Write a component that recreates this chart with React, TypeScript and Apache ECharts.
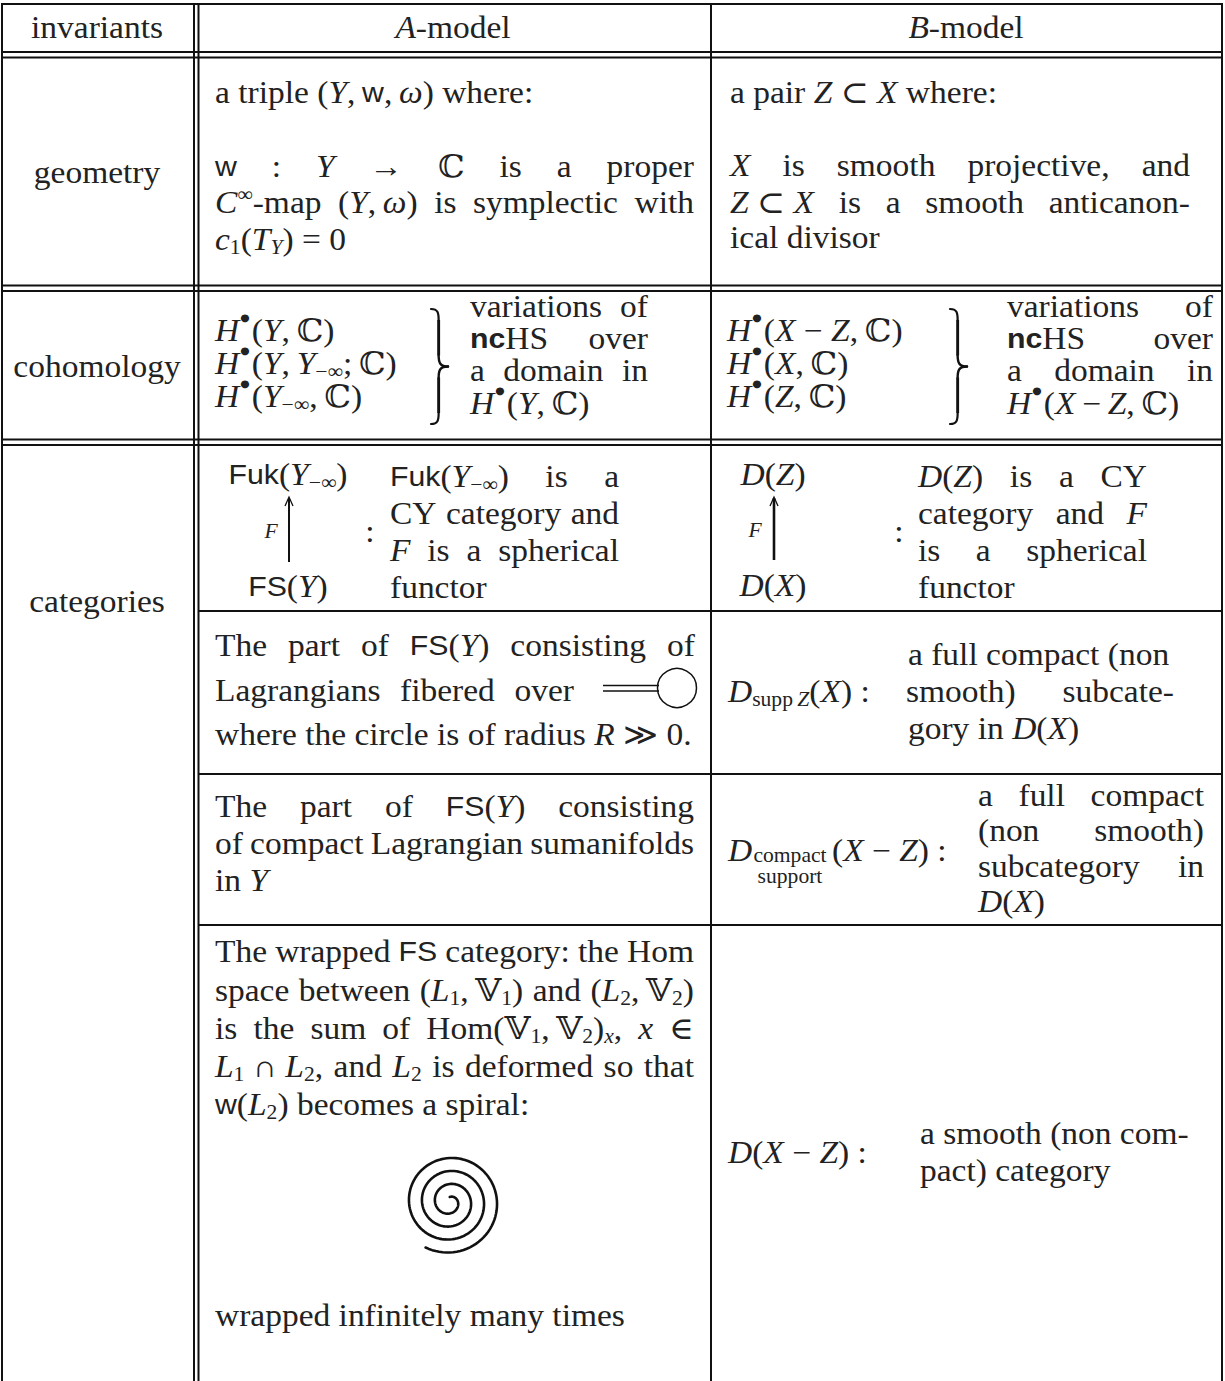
import React, { useEffect, useRef } from "react";
import * as echarts from "echarts";

const W = 1225;
const H = 1381;

// ---------------- table text ----------------
const headerTexts = ["invariants", "{i|A}-model", "{i|B}-model"];
const rowLabels = ["geometry", "cohomology", "categories"];

const geometryA = [
  "a triple ({i|Y},\u2009{s|w},\u2009{i|ω}) where:",
  "{s|w} : {i|Y} → ℂ is a proper",
  "{i|C}{sup|∞}-map ({i|Y},\u2009{i|ω}) is symplectic with",
  "{i|c}{sub|1}({i|T}{isub|Y})\u2005=\u20050",
];
const geometryB = [
  "a pair {i|Z}\u2005⊂\u2005{i|X} where:",
  "{i|X} is smooth projective, and",
  "{i|Z}\u2005⊂\u2005{i|X} is a smooth anticanon-",
  "ical divisor",
];
const cohomALeft = [
  "{i|H}{dot|●}({i|Y},\u2009ℂ)",
  "{i|H}{dot|●}({i|Y},\u2009{i|Y}{sub|−∞};\u2009ℂ)",
  "{i|H}{dot|●}({i|Y}{sub|−∞},\u2009ℂ)",
];
const cohomARight = ["variations of", "{b|nc}HS over", "a domain in", "{i|H}{dot|●}({i|Y},\u2009ℂ)"];
const cohomBLeft = [
  "{i|H}{dot|●}({i|X}\u2005−\u2005{i|Z},\u2009ℂ)",
  "{i|H}{dot|●}({i|X},\u2009ℂ)",
  "{i|H}{dot|●}({i|Z},\u2009ℂ)",
];
const cohomBRight = ["variations of", "{b|nc}HS over", "a domain in", "{i|H}{dot|●}({i|X}\u2009−\u2009{i|Z},\u2009ℂ)"];

const catA1Diagram = ["{s|Fuk}({i|Y}{sub|−∞})", "F", "{s|FS}({i|Y})"];
const catA1Text = ["{s|Fuk}({i|Y}{sub|−∞}) is a", "CY category and", "{i|F} is a spherical", "functor"];
const catB1Diagram = ["{i|D}({i|Z})", "F", "{i|D}({i|X})"];
const catB1Text = ["{i|D}({i|Z}) is a CY", "category and {i|F}", "is a spherical", "functor"];

const catA2Text = [
  "The part of {s|FS}({i|Y}) consisting of",
  "Lagrangians fibered over",
  "where the circle is of radius {i|R}\u2005≫\u20050.",
];
const catB2Lhs = "{i|D}{sub|supp\u2009}{isub|Z}({i|X}) :";
const catB2Text = ["a full compact (non", "smooth) subcate-", "gory in {i|D}({i|X})"];

const catA3Text = ["The part of {s|FS}({i|Y}) consisting", "of compact Lagrangian sumanifolds", "in {i|Y}"];
const catB3Lhs = ["{i|D}", "compact", "support", "({i|X}\u2005−\u2005{i|Z}) :"];
const catB3Text = ["a full compact", "(non smooth)", "subcategory in", "{i|D}({i|X})"];

const catA4Text = [
  "The wrapped {s|FS} category: the Hom",
  "space between ({i|L}{sub|1},\u2009𝕍{sub|1}) and ({i|L}{sub|2},\u2009𝕍{sub|2})",
  "is the sum of Hom(𝕍{sub|1},\u2009𝕍{sub|2}){isub|x}, {i|x} ∈",
  "{i|L}{sub|1}\u2005∩\u2005{i|L}{sub|2}, and {i|L}{sub|2} is deformed so that",
  "{s|w}({i|L}{sub|2}) becomes a spiral:",
];
const catA4Tail = "wrapped infinitely many times";
const catB4Lhs = "{i|D}({i|X}\u2005−\u2005{i|Z}) :";
const catB4Text = ["a smooth (non com-", "pact) category"];

// ---------------- styles ----------------
const INK = "#222";
const LINE = "#111";
const SERIF = '"Liberation Serif", "DejaVu Serif", serif';
const SANS = '"Liberation Sans", "DejaVu Sans", sans-serif';
const FS = 31;
const LH = 36;
const SX = 1.08;
const SUB = 20;

const BASE: any = { fontFamily: SERIF, fontSize: FS, fontStyle: "normal", fontWeight: "normal" };
const RICH: any = {
  i: { fontFamily: SERIF, fontStyle: "italic", fontSize: FS, lineHeight: LH, fill: INK },
  s: { fontFamily: SANS, fontSize: 28, lineHeight: LH, fill: INK },
  b: { fontFamily: SANS, fontWeight: "bold", fontSize: 28, lineHeight: LH, fill: INK },
  sub: { fontFamily: SERIF, fontSize: SUB, lineHeight: 21, verticalAlign: "bottom", fill: INK },
  isub: { fontFamily: SERIF, fontStyle: "italic", fontSize: SUB, lineHeight: 21, verticalAlign: "bottom", fill: INK },
  sup: { fontFamily: SERIF, fontSize: SUB, lineHeight: 20, verticalAlign: "top", fill: INK },
  dot: { fontFamily: '"DejaVu Sans", sans-serif', fontSize: 10, lineHeight: 18, verticalAlign: "top", fill: INK, padding: [0, 2, 0, 1] },
};

let ctx: CanvasRenderingContext2D | null = null;
function measure(st: any, s: string): number {
  if (!ctx) ctx = document.createElement("canvas").getContext("2d");
  ctx!.font = `${st.fontStyle || "normal"} ${st.fontWeight || "normal"} ${st.fontSize}px ${st.fontFamily}`;
  let w = ctx!.measureText(s).width;
  if (st.padding) w += st.padding[1] + st.padding[3];
  return w;
}
function measureRich(s: string): number {
  const re = /\{(\w+)\|([^}]*)\}/g;
  let w = 0;
  let last = 0;
  let m: any;
  while ((m = re.exec(s))) {
    if (m.index > last) w += measure(BASE, s.slice(last, m.index));
    w += measure(RICH[m[1]], m[2]);
    last = re.lastIndex;
  }
  if (last < s.length) w += measure(BASE, s.slice(last));
  return w * SX;
}

function txt(s: string, x: number, y: number, align = "left"): any {
  return {
    type: "text",
    x,
    y,
    scaleX: SX,
    silent: true,
    style: {
      text: s,
      rich: RICH,
      fontFamily: SERIF,
      fontSize: FS,
      lineHeight: LH,
      fill: INK,
      align,
      textAlign: align,
      verticalAlign: "middle",
      textVerticalAlign: "middle",
    },
  };
}
function small(s: string, x: number, y: number, size: number, italic: boolean, align = "center"): any {
  return {
    type: "text",
    x,
    y,
    scaleX: SX,
    silent: true,
    style: {
      text: s,
      fontFamily: SERIF,
      fontStyle: italic ? "italic" : "normal",
      fontSize: size,
      lineHeight: size,
      fill: INK,
      align,
      textAlign: align,
      verticalAlign: "middle",
      textVerticalAlign: "middle",
    },
  };
}
function justify(s: string, x0: number, x1: number, y: number): any[] {
  const words = s.split(" ");
  const ws = words.map(measureRich);
  const total = ws.reduce((a, b) => a + b, 0);
  const gap = words.length > 1 ? (x1 - x0 - total) / (words.length - 1) : 0;
  const out: any[] = [];
  let x = x0;
  words.forEach((wd, k) => {
    out.push(txt(wd, x, y));
    x += ws[k] + gap;
  });
  return out;
}
function hline(x1: number, x2: number, y: number, w = 2): any {
  return { type: "line", silent: true, shape: { x1, y1: y, x2, y2: y }, style: { stroke: LINE, lineWidth: w } };
}
function vline(x: number, y1: number, y2: number, w = 2): any {
  return { type: "line", silent: true, shape: { x1: x, y1, x2: x, y2 }, style: { stroke: LINE, lineWidth: w } };
}
function bez(x1: number, y1: number, c1x: number, c1y: number, c2x: number, c2y: number, x2: number, y2: number, w: number): any {
  return {
    type: "bezierCurve",
    silent: true,
    shape: { x1, y1, x2, y2, cpx1: c1x, cpy1: c1y, cpx2: c2x, cpy2: c2y },
    style: { stroke: LINE, fill: "none", lineWidth: w, lineCap: "round" },
  };
}
function brace(xl: number, yt: number, yb: number, w: number): any[] {
  const xm = xl + w * 0.45;
  const xt = xl + w;
  const ym = (yt + yb) / 2;
  const q = 11;
  const lw = 2.9;
  return [
    bez(xl, yt, xl + (xm - xl) * 0.9, yt, xm, yt + q * 0.35, xm, yt + q, 2.2),
    vline(xm, yt + q, ym - q, lw),
    bez(xm, ym - q, xm, ym - q * 0.35, xm + (xt - xm) * 0.15, ym, xt, ym, 2.4),
    bez(xt, ym, xm + (xt - xm) * 0.15, ym, xm, ym + q * 0.35, xm, ym + q, 2.4),
    vline(xm, ym + q, yb - q, lw),
    bez(xm, yb - q, xm, yb - q * 0.35, xl + (xm - xl) * 0.9, yb, xl, yb, 2.2),
  ];
}
function upArrow(x: number, yb: number, yt: number, w: number): any[] {
  return [
    vline(x, yb, yt + 1, w),
    {
      type: "polyline",
      silent: true,
      shape: { points: [[x - 4, yt + 9], [x, yt], [x + 4, yt + 9]] },
      style: { stroke: LINE, fill: "none", lineWidth: 1.3 },
    },
  ];
}

function buildElements(): any[] {
  const els: any[] = [];
  // ----- rules -----
  els.push(hline(1, 1223, 4));
  els.push(vline(2, 3, H), vline(1222, 3, H));
  els.push(vline(194, 3, H), vline(198.5, 3, H));
  els.push(vline(711, 3, H));
  [52, 57.5, 285.5, 291, 439.5, 445].forEach((y) => els.push(hline(1, 1223, y)));
  [611, 774, 925].forEach((y) => els.push(hline(198.5, 1223, y)));

  // ----- header -----
  els.push(txt(headerTexts[0], 97, 27, "center"));
  els.push(txt(headerTexts[1], 453, 27, "center"));
  els.push(txt(headerTexts[2], 966, 27, "center"));

  // ----- row labels -----
  els.push(txt(rowLabels[0], 97, 172, "center"));
  els.push(txt(rowLabels[1], 97, 366, "center"));
  els.push(txt(rowLabels[2], 97, 601, "center"));

  // ----- geometry -----
  const AL = 215, AR = 694, BL = 730, BR = 1190;
  const gy = [92, 166, 202, 239];
  els.push(txt(geometryA[0], AL, gy[0]));
  els.push(...justify(geometryA[1], AL, AR, gy[1]));
  els.push(...justify(geometryA[2], AL, AR, gy[2]));
  els.push(txt(geometryA[3], AL, gy[3]));
  els.push(txt(geometryB[0], BL, gy[0]));
  els.push(...justify(geometryB[1], BL, BR, gy[1] - 1));
  els.push(...justify(geometryB[2], BL, BR, gy[2]));
  els.push(txt(geometryB[3], BL, gy[3] - 2));

  // ----- cohomology -----
  const cy = [330, 363, 396];
  cohomALeft.forEach((s, k) => els.push(txt(s, AL, cy[k])));
  els.push(...brace(431, 309, 424, 17));
  const ry = [306, 338, 370, 403];
  for (let k = 0; k < 3; k++) els.push(...justify(cohomARight[k], 470, 648, ry[k]));
  els.push(txt(cohomARight[3], 470, ry[3]));
  cohomBLeft.forEach((s, k) => els.push(txt(s, 727, cy[k])));
  els.push(...brace(950, 309, 424, 17));
  for (let k = 0; k < 3; k++) els.push(...justify(cohomBRight[k], 1007, 1213, ry[k]));
  els.push(txt(cohomBRight[3], 1007, ry[3]));

  // ----- categories, row 1 -----
  els.push(txt(catA1Diagram[0], 288, 474, "center"));
  els.push(...upArrow(289, 562, 497, 2));
  els.push(small(catA1Diagram[1], 271, 531, 20, true));
  els.push(txt(catA1Diagram[2], 288, 586, "center"));
  els.push(txt(":", 370, 531, "center"));
  const t1 = [476, 513, 550, 587];
  for (let k = 0; k < 3; k++) els.push(...justify(catA1Text[k], 390, 619, t1[k]));
  els.push(txt(catA1Text[3], 390, t1[3]));

  els.push(txt(catB1Diagram[0], 773, 474, "center"));
  els.push(...upArrow(774, 560, 497, 2.6));
  els.push(small(catB1Diagram[1], 755, 530, 20, true));
  els.push(txt(catB1Diagram[2], 773, 585, "center"));
  els.push(txt(":", 899, 531, "center"));
  for (let k = 0; k < 3; k++) els.push(...justify(catB1Text[k], 918, 1147, t1[k]));
  els.push(txt(catB1Text[3], 918, t1[3]));

  // ----- categories, row 2 -----
  els.push(...justify(catA2Text[0], AL, 695, 645));
  els.push(...justify(catA2Text[1], AL, 574, 690));
  els.push(...justify(catA2Text[2], AL, 691, 734));
  els.push(hline(603, 659, 685.5, 1.5), hline(603, 659, 691, 1.5));
  els.push({
    type: "circle",
    silent: true,
    shape: { cx: 677, cy: 688, r: 19.5 },
    style: { fill: "none", stroke: LINE, lineWidth: 1.5 },
  });
  els.push(txt(catB2Lhs, 728, 691));
  els.push(txt(catB2Text[0], 908, 654));
  els.push(...justify(catB2Text[1], 906, 1174, 691));
  els.push(txt(catB2Text[2], 908, 728));

  // ----- categories, row 3 -----
  els.push(...justify(catA3Text[0], AL, AR, 806));
  els.push(...justify(catA3Text[1], AL, AR, 843));
  els.push(txt(catA3Text[2], AL, 880));
  els.push(txt(catB3Lhs[0], 728, 850));
  els.push(small(catB3Lhs[1], 790, 855, 20, false));
  els.push(small(catB3Lhs[2], 790, 876, 20, false));
  els.push(txt(catB3Lhs[3], 832, 850));
  const t3 = [795, 830, 866, 901];
  for (let k = 0; k < 3; k++) els.push(...justify(catB3Text[k], 978, 1204, t3[k]));
  els.push(txt(catB3Text[3], 978, t3[3]));

  // ----- categories, row 4 -----
  const t4 = [951, 990, 1028, 1066, 1104];
  for (let k = 0; k < 4; k++) els.push(...justify(catA4Text[k], AL, AR, t4[k]));
  els.push(txt(catA4Text[4], AL, t4[4]));
  const pts: number[][] = [];
  for (let t = -90; t <= 1198; t += 4) {
    const r = 5 + (13 * (t + 90)) / 360;
    const a = (t * Math.PI) / 180;
    pts.push([449.75 + r * Math.cos(a), 1202 + r * Math.sin(a)]);
  }
  els.push({
    type: "polyline",
    silent: true,
    shape: { points: pts },
    style: { stroke: LINE, fill: "none", lineWidth: 2.6, lineCap: "round", lineJoin: "round" },
  });
  els.push(txt(catA4Tail, AL, 1315));
  els.push(txt(catB4Lhs, 728, 1152));
  els.push(txt(catB4Text[0], 920, 1133));
  els.push(txt(catB4Text[1], 920, 1170));
  return els;
}

export default function App() {
  const ref = useRef<HTMLDivElement>(null);
  useEffect(() => {
    const chart = echarts.init(ref.current!, null, { renderer: "svg" });
    chart.setOption({
      animation: false,
      backgroundColor: "#fff",
      graphic: { elements: buildElements() },
    });
    return () => chart.dispose();
  }, []);
  return <div ref={ref} style={{ position: "absolute", left: 0, top: 0, width: W, height: H }} />;
}
